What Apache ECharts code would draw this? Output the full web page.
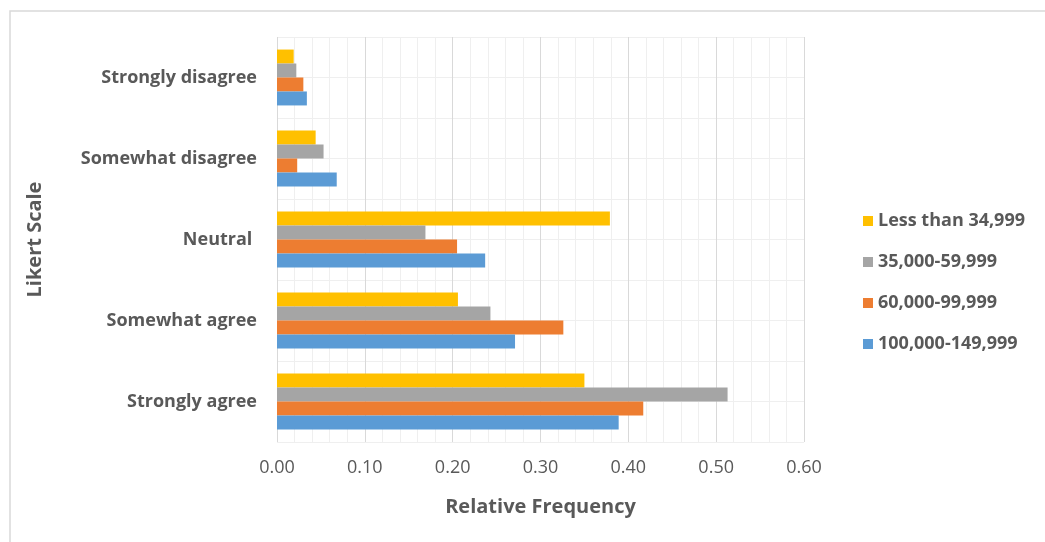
<!DOCTYPE html>
<html><head><meta charset="utf-8">
<script src="https://cdn.jsdelivr.net/npm/echarts@6/dist/echarts.min.js"></script>
<style>html,body{margin:0;padding:0;background:#fff}#c{width:1045px;height:542px}</style>
</head><body><div id="c"></div>
<script>
const categories = ['Strongly agree','Somewhat agree','Neutral ','Somewhat disagree','Strongly disagree'];
const seriesNames = ['Less than 34,999','35,000-59,999','60,000-99,999','100,000-149,999'];
const sLess = [0.350, 0.206, 0.379, 0.044, 0.019];
const s35k  = [0.513, 0.243, 0.169, 0.053, 0.022];
const s60k  = [0.417, 0.326, 0.205, 0.023, 0.030];
const s100k = [0.389, 0.271, 0.237, 0.068, 0.034];
const xTicks = [0, 0.1, 0.2, 0.3, 0.4, 0.5, 0.6];
const colors = ['#FFC000','#A5A5A5','#ED7D31','#5B9BD5'];
const values = [sLess, s35k, s60k, s100k];
const FONT = 'Open Sans';
const chart = echarts.init(document.getElementById('c'));
chart.setOption({
  animation:false,
  textStyle:{fontFamily:FONT},
  graphic:[{type:'rect',shape:{x:10,y:11,width:1100,height:600},style:{fill:'none',stroke:'#d9d9d9',lineWidth:1.5},silent:true}],
  grid:{left:277,right:241,top:37,bottom:100},
  legend:{
    orient:'vertical',left:858,top:207,itemWidth:10,itemHeight:10,itemGap:23,
    data:seriesNames,
    textStyle:{fontFamily:FONT,fontSize:18,fontWeight:'bold',color:'#595959',padding:[3,0,0,0]},
    icon:'rect'
  },
  xAxis:{
    type:'value',min:xTicks[0],max:xTicks[xTicks.length-1],interval:0.1,
    name:'Relative Frequency',nameLocation:'middle',nameGap:55,
    nameTextStyle:{fontFamily:FONT,fontSize:20,fontWeight:'bold',color:'#595959'},
    axisLabel:{formatter:v=>v.toFixed(2),fontFamily:FONT,fontSize:18,color:'#595959',margin:17},
    axisLine:{show:false},axisTick:{show:false},
    splitLine:{show:true,lineStyle:{color:'#d9d9d9',width:1}},
    minorTick:{show:false,splitNumber:5},
    minorSplitLine:{show:true,lineStyle:{color:'#efefef',width:1}}
  },
  yAxis:[{
    type:'category',data:categories,
    name:'Likert Scale',nameLocation:'middle',nameGap:232,nameRotate:90,
    nameTextStyle:{fontFamily:FONT,fontSize:20,fontWeight:'bold',color:'#595959'},
    axisLabel:{fontFamily:FONT,fontSize:18,fontWeight:'bold',color:'#595959',margin:20,padding:[5,0,0,0]},
    axisLine:{show:false},axisTick:{show:false},
    splitLine:{show:true,lineStyle:{color:'#d9d9d9',width:1}}
  },{
    type:'value',min:0,max:10,interval:1,position:'right',
    axisLabel:{show:false},axisLine:{show:false},axisTick:{show:false},
    splitLine:{show:true,lineStyle:{color:'#efefef',width:1}},z:0
  }],
  series: values.map((d,i)=>({
    name:seriesNames[i],type:'bar',data:d,yAxisIndex:0,
    itemStyle:{color:colors[i]},barGap:'0%',barCategoryGap:'31%'
  }))
});
</script></body></html>
